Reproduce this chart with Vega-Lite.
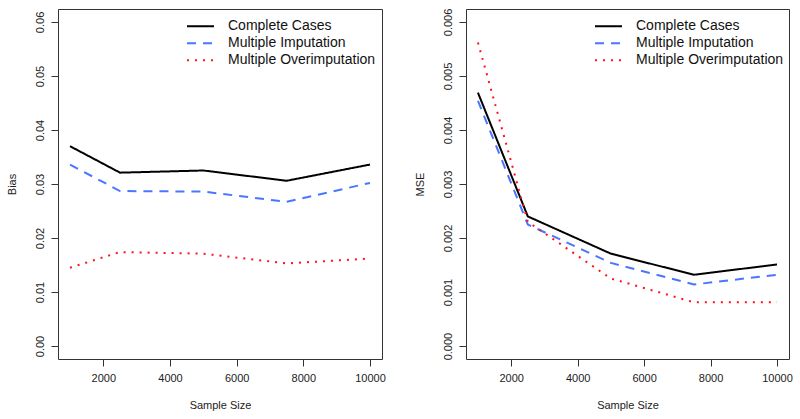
{
  "$schema": "https://vega.github.io/schema/vega-lite/v6.json",
  "padding": {"left": 5, "top": 7, "right": 5, "bottom": 5},
  "background": "white",
  "data": {"values": [
    {"n": 1000, "method": "Complete Cases", "bias": 0.0370, "mse": 0.00469},
    {"n": 2500, "method": "Complete Cases", "bias": 0.0321, "mse": 0.00240},
    {"n": 5000, "method": "Complete Cases", "bias": 0.0325, "mse": 0.00171},
    {"n": 7500, "method": "Complete Cases", "bias": 0.0306, "mse": 0.00132},
    {"n": 10000, "method": "Complete Cases", "bias": 0.0336, "mse": 0.00151},
    {"n": 1000, "method": "Multiple Imputation", "bias": 0.0336, "mse": 0.00454},
    {"n": 2500, "method": "Multiple Imputation", "bias": 0.0287, "mse": 0.00225},
    {"n": 5000, "method": "Multiple Imputation", "bias": 0.0286, "mse": 0.00154},
    {"n": 7500, "method": "Multiple Imputation", "bias": 0.0267, "mse": 0.00114},
    {"n": 10000, "method": "Multiple Imputation", "bias": 0.0302, "mse": 0.00132},
    {"n": 1000, "method": "Multiple Overimputation", "bias": 0.0145, "mse": 0.00562},
    {"n": 2500, "method": "Multiple Overimputation", "bias": 0.0174, "mse": 0.00230},
    {"n": 5000, "method": "Multiple Overimputation", "bias": 0.0171, "mse": 0.00125},
    {"n": 7500, "method": "Multiple Overimputation", "bias": 0.0153, "mse": 0.00081},
    {"n": 10000, "method": "Multiple Overimputation", "bias": 0.0162, "mse": 0.00081}
  ]},
  "config": {
    "font": "Liberation Sans",
    "view": {"stroke": "#333", "strokeWidth": 1},
    "axis": {
      "grid": false, "domain": false, "tickSize": 7, "tickColor": "#333",
      "labelFontSize": 11, "titleFontSize": 11, "labelColor": "#222", "titleColor": "#222",
      "titleFontWeight": "normal"
    },
    "legend": {
      "title": null, "orient": "none", "legendX": 128, "legendY": 9, "padding": 0,
      "symbolType": "stroke", "symbolSize": 729, "symbolStrokeWidth": 2,
      "labelFontSize": 14, "labelOffset": 13, "clipHeight": 16.7, "rowPadding": 0,
      "labelColor": "#111"
    }
  },
  "spacing": 84,
  "bounds": "flush",
  "resolve": {"scale": {"color": "independent", "strokeDash": "independent"}},
  "hconcat": [
    {
      "width": 324, "height": 350,
      "mark": {"type": "line", "strokeWidth": 2, "strokeCap": "butt"},
      "encoding": {
        "x": {"field": "n", "type": "quantitative", "title": "Sample Size",
          "scale": {"domain": [640, 10360], "nice": false, "zero": false},
          "axis": {"values": [2000, 4000, 6000, 8000, 10000], "format": "d", "labelPadding": 6, "titlePadding": 16}},
        "y": {"field": "bias", "type": "quantitative", "title": "Bias",
          "scale": {"domain": [-0.0024, 0.0624], "nice": false, "zero": false},
          "axis": {"values": [0, 0.01, 0.02, 0.03, 0.04, 0.05, 0.06], "format": ".2f", "labelAngle": -90, "labelAlign": "center", "labelBaseline": "bottom", "labelPadding": 6, "titlePadding": 17}},
        "color": {"field": "method", "type": "nominal",
          "scale": {"domain": ["Complete Cases", "Multiple Imputation", "Multiple Overimputation"], "range": ["#000000", "#4876FF", "#FF1020"]}},
        "strokeDash": {"field": "method", "type": "nominal",
          "scale": {"domain": ["Complete Cases", "Multiple Imputation", "Multiple Overimputation"], "range": [[1, 0], [9, 7], [2, 6]]}}
      }
    },
    {
      "width": 323, "height": 350,
      "mark": {"type": "line", "strokeWidth": 2, "strokeCap": "butt"},
      "encoding": {
        "x": {"field": "n", "type": "quantitative", "title": "Sample Size",
          "scale": {"domain": [640, 10360], "nice": false, "zero": false},
          "axis": {"values": [2000, 4000, 6000, 8000, 10000], "format": "d", "labelPadding": 6, "titlePadding": 16}},
        "y": {"field": "mse", "type": "quantitative", "title": "MSE",
          "scale": {"domain": [-0.00024, 0.00624], "nice": false, "zero": false},
          "axis": {"values": [0, 0.001, 0.002, 0.003, 0.004, 0.005, 0.006], "format": ".3f", "labelAngle": -90, "labelAlign": "center", "labelBaseline": "bottom", "labelPadding": 6, "titlePadding": 17}},
        "color": {"field": "method", "type": "nominal",
          "scale": {"domain": ["Complete Cases", "Multiple Imputation", "Multiple Overimputation"], "range": ["#000000", "#4876FF", "#FF1020"]}},
        "strokeDash": {"field": "method", "type": "nominal",
          "scale": {"domain": ["Complete Cases", "Multiple Imputation", "Multiple Overimputation"], "range": [[1, 0], [9, 7], [2, 6]]}}
      }
    }
  ]
}
